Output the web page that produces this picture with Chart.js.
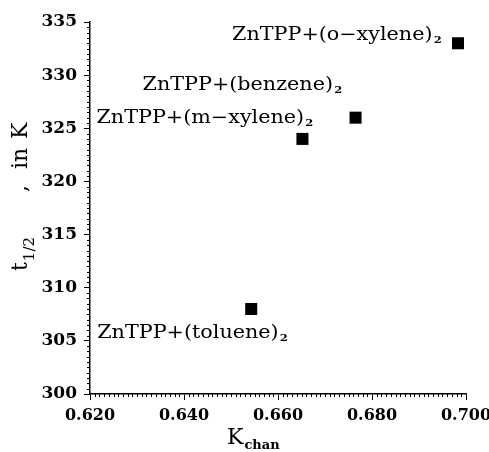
<!DOCTYPE html>
<html>
<head>
<meta charset="utf-8">
<script src="https://cdn.jsdelivr.net/npm/chart.js@4"></script>
<style>
html,body{margin:0;padding:0;background:#fff;}
#wrap{width:489px;height:452px;}
</style>
</head>
<body>
<div id="wrap"><canvas id="c" width="489" height="452"></canvas></div>
<script>
// ---- data ----
const categories = ['ZnTPP+(o\u2212xylene)', 'ZnTPP+(benzene)', 'ZnTPP+(m\u2212xylene)', 'ZnTPP+(toluene)'];
const kChan = [0.6983, 0.6765, 0.6652, 0.6543];
const tHalf = [333, 326, 324, 308];
const xTicks = [0.620, 0.640, 0.660, 0.680, 0.700];
const yTicks = [300, 305, 310, 315, 320, 325, 330, 335];

// label placement relative to each point (pixels): left edge offset and vertical centre offset
const labelOffsets = [[-226, -8], [-213, -32], [-206, -21], [-154, 24]];

const SERIF = '"DejaVu Serif", "Liberation Serif", serif';
const STRETCH = 1.15;

function drawSub(ctx, main, sub, x, y, mainFont, subFont, subShift, stretch) {
  ctx.save();
  ctx.translate(x, y);
  ctx.scale(stretch, 1);
  ctx.font = mainFont;
  ctx.fillText(main, 0, 0);
  const w = ctx.measureText(main).width;
  ctx.font = subFont;
  ctx.fillText(sub, w + 1, subShift);
  ctx.restore();
}

const decor = {
  id: 'decor',
  afterDraw(chart) {
    const ctx = chart.ctx;
    const xs = chart.scales.x, ys = chart.scales.y;
    const area = chart.chartArea;
    ctx.save();
    ctx.strokeStyle = '#000';
    ctx.lineWidth = 1;
    // minor ticks
    ctx.beginPath();
    for (let i = 0; i <= 70; i++) {
      if (i % 10 === 0) continue;
      const v = 300 + i * 0.5;
      const py = Math.round(ys.getPixelForValue(v)) + 0.5;
      ctx.moveTo(area.left - 3, py); ctx.lineTo(area.left, py);
    }
    for (let i = 0; i <= 80; i++) {
      if (i % 20 === 0) continue;
      const v = 0.62 + i * 0.001;
      const px = Math.round(xs.getPixelForValue(v)) + 0.5;
      ctx.moveTo(px, area.bottom); ctx.lineTo(px, area.bottom + 3);
    }
    ctx.stroke();

    // point labels
    ctx.fillStyle = '#000';
    ctx.textBaseline = 'middle';
    ctx.textAlign = 'left';
    for (let i = 0; i < categories.length; i++) {
      const px = xs.getPixelForValue(kChan[i]);
      const py = ys.getPixelForValue(tHalf[i]);
      const [dx, dy] = labelOffsets[i];
      drawSub(ctx, categories[i], '2', px + dx, py + dy,
        '18px ' + SERIF, 'bold 10px ' + SERIF, 5, STRETCH);
    }

    // x-axis title K_chan
    ctx.textBaseline = 'alphabetic';
    drawSub(ctx, 'K', 'chan', 227, 444, '22px ' + SERIF, 'bold 13px ' + SERIF, 5, 1);

    // y-axis title t_1/2 , in K (rotated)
    ctx.translate(27, 0);
    ctx.rotate(-Math.PI / 2);
    ctx.textAlign = 'left';
    ctx.font = '22px ' + SERIF;
    ctx.fillText('t', -271, 0);
    const tw = ctx.measureText('t').width;
    ctx.font = '15px ' + SERIF;
    ctx.fillText('1/2', -271 + tw + 1, 7);
    ctx.font = '22px ' + SERIF;
    ctx.fillText(',', -192, 0);
    ctx.fillText('in', -169, 0);
    ctx.fillText('K', -139, 0);
    ctx.restore();
  }
};

new Chart(document.getElementById('c'), {
  type: 'scatter',
  data: {
    datasets: [{
      data: kChan.map((x, i) => ({ x: x, y: tHalf[i] })),
      backgroundColor: '#000',
      borderColor: '#000',
      pointStyle: 'rect',
      pointRadius: 8.5,
      pointHoverRadius: 8.5,
      borderWidth: 0
    }]
  },
  options: {
    responsive: false,
    animation: false,
    events: [],
    layout: { padding: { top: 22, right: 23, left: 0, bottom: 0 } },
    plugins: { legend: { display: false }, tooltip: { enabled: false } },
    scales: {
      x: {
        type: 'linear',
        min: 0.62, max: 0.70,
        afterBuildTicks(scale) { scale.ticks = xTicks.map(v => ({ value: v })); },
        afterFit(scale) { scale.height = 58; scale.paddingLeft = 0; scale.paddingRight = 0; },
        ticks: {
          callback: v => v.toFixed(3),
          color: '#000',
          font: { family: SERIF, size: 16, weight: 'bold' },
          padding: 6,
          maxRotation: 0
        },
        grid: { display: true, drawOnChartArea: false, drawTicks: true, tickLength: 6, color: '#000', tickColor: '#000' },
        border: { display: true, color: '#000', width: 1.5 }
      },
      y: {
        type: 'linear',
        min: 300, max: 335,
        afterBuildTicks(scale) { scale.ticks = yTicks.map(v => ({ value: v })); },
        afterFit(scale) { scale.width = 90; scale.paddingTop = 0; scale.paddingBottom = 0; },
        ticks: {
          callback: v => String(v),
          color: '#000',
          font: { family: SERIF, size: 17, weight: 'bold' },
          padding: 7
        },
        grid: { display: true, drawOnChartArea: false, drawTicks: true, tickLength: 6, color: '#000', tickColor: '#000' },
        border: { display: true, color: '#000', width: 1.5 }
      }
    }
  },
  plugins: [decor]
});
</script>
</body>
</html>
